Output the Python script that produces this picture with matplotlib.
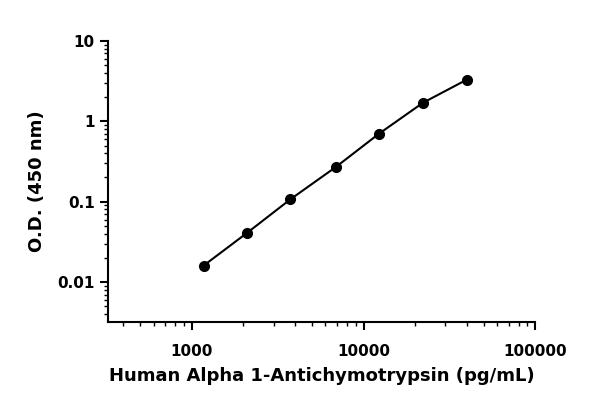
import matplotlib.pyplot as plt
from matplotlib.ticker import LogLocator, NullFormatter

conc = [1170, 2100, 3750, 6900, 12300, 22200, 40000]
od = [0.016, 0.041, 0.107, 0.27, 0.70, 1.7, 3.3]

plt.rcParams['font.family'] = ['DejaVu Sans']
plt.rcParams['font.weight'] = 'bold'

fig = plt.figure(figsize=(6, 4.09), dpi=100)
ax = fig.add_axes([0.18, 0.213, 0.712, 0.687])

ax.plot(conc, od, color='black', lw=1.5)
ax.plot(conc, od, 'o', color='black', ms=7)

ax.set_xscale('log')
ax.set_yscale('log')
ax.set_xlim(325, 100000)
ax.set_ylim(0.0032, 10)
ax.set_xticks([1000, 10000, 100000])
ax.set_xticklabels(['1000', '10000', '100000'])
ax.set_yticks([0.01, 0.1, 1, 10])
ax.set_yticklabels(['0.01', '0.1', '1', '10'])
ax.xaxis.set_minor_locator(LogLocator(base=10, subs=range(2, 10)))
ax.yaxis.set_minor_locator(LogLocator(base=10, subs=range(2, 10)))
ax.xaxis.set_minor_formatter(NullFormatter())
ax.yaxis.set_minor_formatter(NullFormatter())

for s in ['top', 'right']:
    ax.spines[s].set_visible(False)
for s in ['left', 'bottom']:
    ax.spines[s].set_linewidth(1.5)
ax.tick_params(which='major', length=6, width=1.5, labelsize=11)
ax.tick_params(axis='x', which='major', pad=10)
ax.tick_params(which='minor', length=3, width=1)

ax.set_xlabel('Human Alpha 1-Antichymotrypsin (pg/mL)', fontsize=13, fontweight='bold', labelpad=6)
ax.set_ylabel('O.D. (450 nm)', fontsize=13, fontweight='bold', labelpad=8)

fig.savefig('out.png')
